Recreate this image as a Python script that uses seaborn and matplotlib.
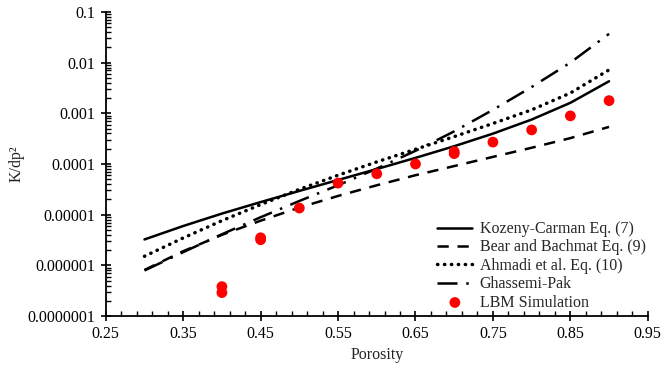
import numpy as np
import pandas as pd
import matplotlib
matplotlib.use("Agg")
import matplotlib.pyplot as plt
import seaborn as sns
from matplotlib.ticker import FixedLocator, FixedFormatter, LogLocator, NullFormatter

porosity = [0.30, 0.35, 0.40, 0.45, 0.50, 0.55, 0.60, 0.65, 0.70, 0.75, 0.80, 0.85, 0.90]
kozeny = [3.24e-6, 5.97e-6, 1.05e-5, 1.77e-5, 2.94e-5, 4.83e-5, 7.94e-5, 1.32e-4, 2.24e-4, 3.97e-4, 7.53e-4, 1.61e-3, 4.29e-3]
bear = [8.1e-7, 1.9e-6, 4.0e-6, 7.6e-6, 1.38e-5, 2.34e-5, 3.8e-5, 6.0e-5, 9.1e-5, 1.38e-4, 2.09e-4, 3.24e-4, 5.4e-4]
ahmadi = [1.51e-6, 3.47e-6, 7.6e-6, 1.58e-5, 3.16e-5, 6.0e-5, 1.10e-4, 1.95e-4, 3.47e-4, 6.3e-4, 1.17e-3, 2.51e-3, 7.2e-3]
ghassemi = [7.9e-7, 1.82e-6, 4.1e-6, 8.9e-6, 1.86e-5, 3.8e-5, 8.1e-5, 1.82e-4, 4.4e-4, 1.17e-3, 3.3e-3, 1.0e-2, 3.7e-2]

lbm_x = [0.40, 0.40, 0.45, 0.45, 0.50, 0.55, 0.60, 0.65, 0.70, 0.70, 0.75, 0.80, 0.85, 0.90]
lbm_y = [3.8e-7, 2.9e-7, 3.5e-6, 3.2e-6, 1.35e-5, 4.2e-5, 6.4e-5, 1.0e-4, 1.76e-4, 1.6e-4, 2.7e-4, 4.7e-4, 8.9e-4, 1.78e-3]

x_ticks = [0.25, 0.35, 0.45, 0.55, 0.65, 0.75, 0.85, 0.95]
x_labels = ["0.25", "0.35", "0.45", "0.55", "0.65", "0.75", "0.85", "0.95"]
y_ticks = [1e-7, 1e-6, 1e-5, 1e-4, 1e-3, 1e-2, 1e-1]
y_labels = ["0.0000001", "0.000001", "0.00001", "0.0001", "0.001", "0.01", "0.1"]

sns.set_theme(style="ticks")
plt.rcParams["font.family"] = ["Liberation Serif", "DejaVu Serif"]
plt.rcParams["font.size"] = 11.5

fig = plt.figure(figsize=(6.61, 3.69), dpi=100)
ax = fig.add_axes([0.160, 0.1436, 0.820, 0.824])

df = pd.DataFrame({"Porosity": porosity, "kc": kozeny, "bb": bear, "ah": ahmadi, "gp": ghassemi})

sns.lineplot(data=df, x="Porosity", y="kc", ax=ax, color="black", lw=1.8,
             label="Kozeny-Carman Eq. (7)")
sns.lineplot(data=df, x="Porosity", y="bb", ax=ax, color="black", lw=1.8,
             label="Bear and Bachmat Eq. (9)")
ax.lines[-1].set_dashes([4.5, 3.5])
sns.lineplot(data=df, x="Porosity", y="ah", ax=ax, color="black", lw=2.5,
             label="Ahmadi et al. Eq. (10)")
ax.lines[-1].set_dashes([0.1, 1.9])
ax.lines[-1].set_dash_capstyle("round")
sns.lineplot(data=df, x="Porosity", y="gp", ax=ax, color="black", lw=1.8,
             label="Ghassemi-Pak")
ax.lines[-1].set_dashes([8, 3.5, 1, 3.5])

sns.scatterplot(x=lbm_x, y=lbm_y, ax=ax, color="#ff0000", s=60, edgecolor="none",
                label="LBM Simulation", zorder=5)

ax.set_yscale("log")
ax.set_xlim(0.25, 0.95)
ax.set_ylim(1e-7, 1e-1)

ax.xaxis.set_major_locator(FixedLocator(x_ticks))
ax.xaxis.set_major_formatter(FixedFormatter(x_labels))
ax.xaxis.set_minor_locator(FixedLocator(np.round(np.arange(0.25, 0.951, 0.02), 2)))
ax.yaxis.set_major_locator(FixedLocator(y_ticks))
ax.yaxis.set_major_formatter(FixedFormatter(y_labels))
ax.yaxis.set_minor_locator(LogLocator(base=10, subs=np.arange(2, 10)))
ax.yaxis.set_minor_formatter(NullFormatter())

ax.tick_params(axis="both", which="major", direction="inout", length=7, width=1.2,
               labelsize=11.5, colors="black", pad=4)
ax.tick_params(axis="both", which="minor", direction="in", length=3.5, width=1.0, colors="black")

for s in ["top", "right"]:
    ax.spines[s].set_visible(False)
for s in ["left", "bottom"]:
    ax.spines[s].set_linewidth(1.3)
    ax.spines[s].set_color("black")

ax.set_xlabel("Porosity", fontsize=11.5, color="#222222", labelpad=3)
ax.set_ylabel("K/dp²", fontsize=11.5, color="#222222", labelpad=2)

leg = ax.legend(frameon=False, loc="lower left", bbox_to_anchor=(0.594, -0.014),
                fontsize=11.5, handlelength=2.2, handletextpad=0.45, labelspacing=0.15,
                borderaxespad=0.2)

fig.savefig("out.png", dpi=100)
